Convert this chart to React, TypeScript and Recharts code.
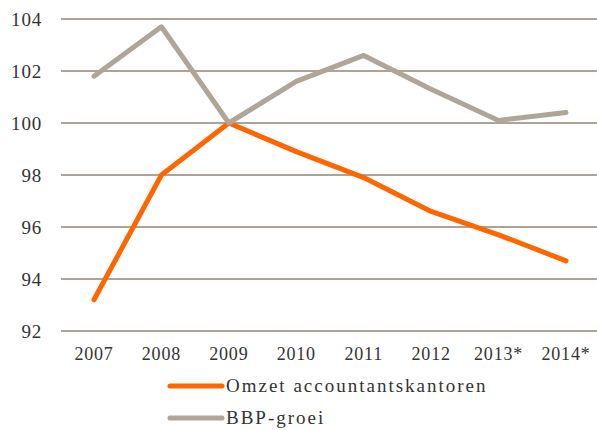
import { LineChart, Line, XAxis, YAxis, CartesianGrid, Legend } from "recharts";

const years = ["2007", "2008", "2009", "2010", "2011", "2012", "2013*", "2014*"];
const omzet = [93.2, 98, 100, 98.9, 97.9, 96.6, 95.7, 94.7];
const bbp = [101.8, 103.7, 100, 101.6, 102.6, 101.3, 100.1, 100.4];
const yTicks = [92, 94, 96, 98, 100, 102, 104];

const ORANGE = "#ff6600";
const GREY = "#b0a599";
const GRID = "#aea396";
const TEXT = "#333333";
const FONT = "'Liberation Serif', serif";

const data = years.map((year, i) => ({ year, omzet: omzet[i], bbp: bbp[i] }));

const legendItems = [
  { label: "Omzet accountantskantoren", color: ORANGE },
  { label: "BBP-groei", color: GREY },
];

const LegendContent = () => (
  <svg width={380} height={60}>
    {legendItems.map((item, i) => (
      <g key={item.label} transform={`translate(0, ${i * 32})`}>
        <line x1={5} x2={57} y1={10} y2={10} stroke={item.color} strokeWidth={5} strokeLinecap="round" />
        <text x={61} y={16} fontSize={19} fill={TEXT} fontFamily={FONT} letterSpacing={2}>
          {item.label}
        </text>
      </g>
    ))}
  </svg>
);

const App = () => {
  return (
    <div style={{ position: "absolute", left: 0, top: 0, background: "#fff" }}>
      <LineChart width={597} height={430} data={data} margin={{ top: 19, right: 0, left: 0, bottom: 69 }}>
        <CartesianGrid vertical={false} stroke={GRID} strokeWidth={2} />
        <XAxis
          dataKey="year"
          axisLine={false}
          tickLine={false}
          tickSize={0}
          tickMargin={16}
          height={30}
          interval={0}
          padding={{ left: 33, right: 31 }}
          tick={{ fill: TEXT, fontSize: 18, fontFamily: FONT, letterSpacing: 0.8 }}
        />
        <YAxis
          domain={[92, 104]}
          ticks={yTicks}
          axisLine={false}
          tickLine={false}
          tickSize={0}
          tickMargin={19}
          width={61}
          tick={{ fill: TEXT, fontSize: 19, fontFamily: FONT, letterSpacing: 0.8 }}
        />
        <Legend
          layout="vertical"
          align="center"
          verticalAlign="middle"
          wrapperStyle={{ left: 165, top: 376 }}
          content={<LegendContent />}
        />
        <Line
          dataKey="omzet"
          name="Omzet accountantskantoren"
          stroke={ORANGE}
          strokeWidth={5}
          strokeLinecap="round"
          strokeLinejoin="round"
          dot={false}
          activeDot={false}
          isAnimationActive={false}
        />
        <Line
          dataKey="bbp"
          name="BBP-groei"
          stroke={GREY}
          strokeWidth={5}
          strokeLinecap="round"
          strokeLinejoin="round"
          dot={false}
          activeDot={false}
          isAnimationActive={false}
        />
      </LineChart>
    </div>
  );
};

export default App;
